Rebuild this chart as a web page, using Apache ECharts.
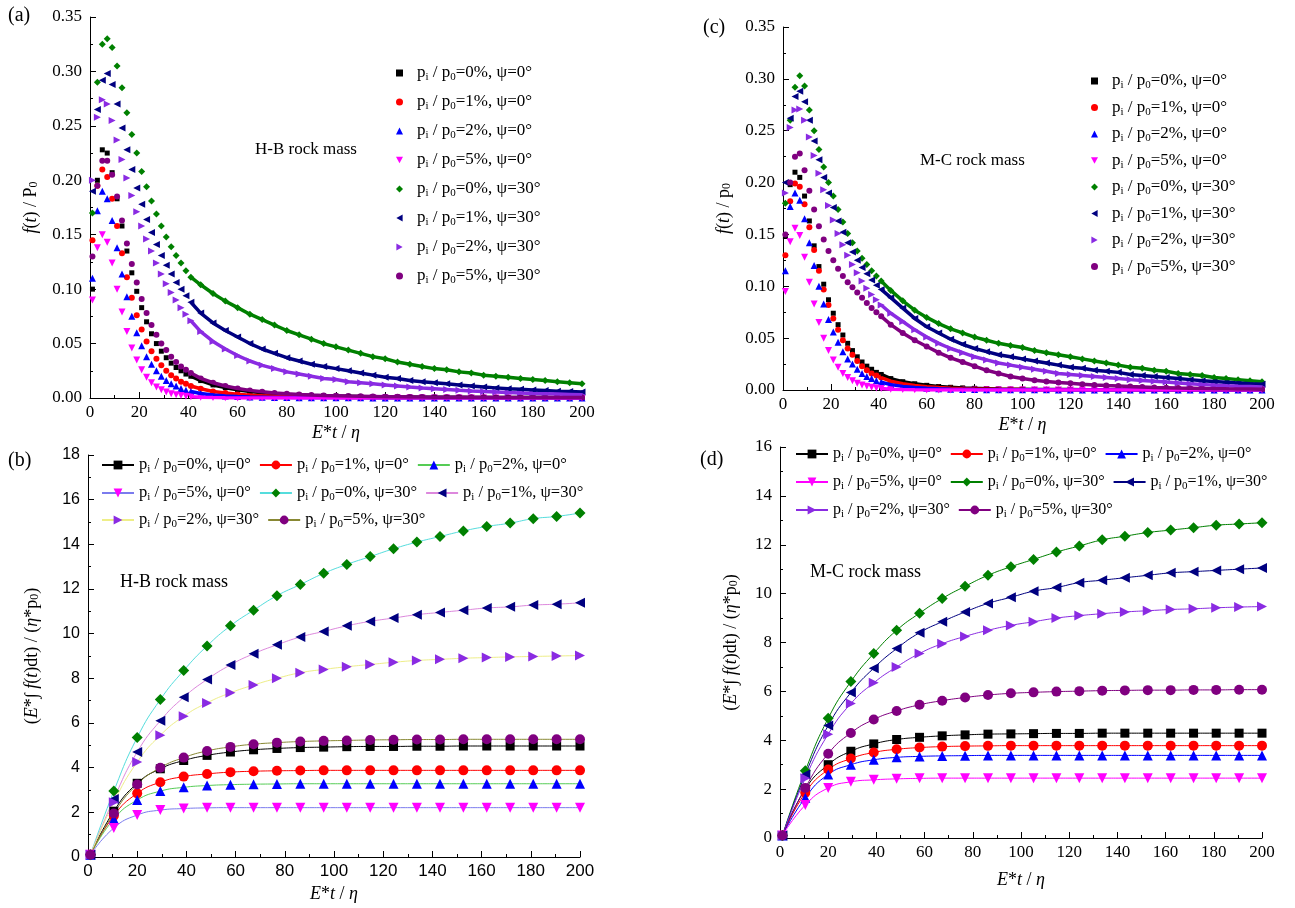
<!DOCTYPE html>
<html>
<head>
<meta charset="utf-8">
<script src="https://cdn.jsdelivr.net/npm/echarts@6/dist/echarts.min.js"></script>
<style>
  html, body { margin: 0; padding: 0; background: #fff; }
  #main { width: 1295px; height: 908px; }
</style>
</head>
<body>
<div id="main"></div>
<script>
// ---- x positions ----
// dense curves (a),(c): step 2 near the peak, step 5 in the tail
const tDense = [1, 3, 5, 7, 9, 11, 13, 15, 17, 19, 21, 23, 25, 27, 29, 31, 33, 35, 37, 39, 41,
  45, 50, 55, 60, 65, 70, 75, 80, 85, 90, 95, 100, 105, 110, 115, 120, 125, 130, 135, 140,
  145, 150, 155, 160, 165, 170, 175, 180, 185, 190, 195, 200];
// cumulative curves (b),(d)
const tCum = [1, 10.5, 20, 29.4, 38.9, 48.4, 57.9, 67.3, 76.8, 86.3, 95.8, 105.2, 114.7, 124.2,
  133.7, 143.1, 152.6, 162.1, 171.6, 181, 190.5, 200];

// legend text parts
const pctLabels = ['0%', '1%', '2%', '5%', '0%', '1%', '2%', '5%'];
const psiLabels = ['0°', '0°', '0°', '0°', '30°', '30°', '30°', '30°'];

// ---- (a) H-B rock mass, f(t)/p0 ----
const fHB_p0_psi0 = [0.1, 0.2, 0.228, 0.225, 0.207, 0.183, 0.158, 0.135, 0.115, 0.098, 0.083, 0.07, 0.059, 0.05, 0.043, 0.037, 0.032, 0.028, 0.025, 0.022, 0.02,
  0.016, 0.012, 0.0095, 0.0075, 0.006, 0.0048, 0.0039, 0.0032, 0.0027, 0.0023, 0.002, 0.0017, 0.0015, 0.0013, 0.0012, 0.0011, 0.001, 0.0009, 0.0008, 0.0007,
  0.00065, 0.0006, 0.00055, 0.0005, 0.00047, 0.00044, 0.00041, 0.00038, 0.00036, 0.00034, 0.00032, 0.0003];
const fHB_p1_psi0 = [0.145, 0.195, 0.21, 0.203, 0.183, 0.158, 0.133, 0.111, 0.092, 0.076, 0.063, 0.052, 0.043, 0.036, 0.03, 0.025, 0.021, 0.018, 0.015, 0.013, 0.011,
  0.0085, 0.006, 0.0045, 0.0034, 0.0026, 0.002, 0.0016, 0.0013, 0.001, 0.0008, 0.0007, 0.0006, 0.0005, 0.00045, 0.0004, 0.00035, 0.0003, 0.00027, 0.00024, 0.00022,
  0.0002, 0.00018, 0.00016, 0.00015, 0.00014, 0.00013, 0.00012, 0.00011, 0.0001, 0.0001, 0.00009, 0.00009];
const fHB_p2_psi0 = [0.11, 0.172, 0.19, 0.183, 0.163, 0.138, 0.114, 0.093, 0.075, 0.06, 0.048, 0.038, 0.031, 0.025, 0.02, 0.016, 0.013, 0.011, 0.0088, 0.0072, 0.006,
  0.0042, 0.0028, 0.0019, 0.0013, 0.0009, 0.0007, 0.0005, 0.0004, 0.0003, 0.00025, 0.0002, 0.00017, 0.00015, 0.00013, 0.00011, 0.0001, 0.00009, 0.00008, 0.00007, 0.00006,
  0.00006, 0.00005, 0.00005, 0.00005, 0.00005, 0.00005, 0.00005, 0.00005, 0.00005, 0.00005, 0.00005, 0.00005];
const fHB_p5_psi0 = [0.09, 0.138, 0.15, 0.143, 0.124, 0.1, 0.079, 0.061, 0.046, 0.035, 0.026, 0.019, 0.014, 0.01, 0.0075, 0.0055, 0.004, 0.003, 0.0022, 0.0016, 0.0012,
  0.0007, 0.0004, 0.0002, 0.0001, 0.00008, 0.00006, 0.00005, 0.00004, 0, 0, 0, 0, 0, 0, 0, 0, 0, 0, 0, 0,
  0, 0, 0, 0, 0, 0, 0, 0, 0, 0, 0, 0];
const fHB_p0_psi30 = [0.17, 0.29, 0.325, 0.33, 0.322, 0.305, 0.285, 0.262, 0.242, 0.225, 0.208, 0.194, 0.181, 0.169, 0.158, 0.148, 0.139, 0.131, 0.124, 0.117, 0.111,
  0.104, 0.096, 0.089, 0.083, 0.077, 0.072, 0.067, 0.062, 0.058, 0.054, 0.05, 0.047, 0.044, 0.041, 0.038, 0.036, 0.033, 0.031, 0.029, 0.027,
  0.026, 0.024, 0.023, 0.021, 0.02, 0.019, 0.018, 0.017, 0.016, 0.015, 0.014, 0.013];
const fHB_p1_psi30 = [0.19, 0.265, 0.292, 0.298, 0.288, 0.27, 0.248, 0.228, 0.21, 0.193, 0.178, 0.164, 0.152, 0.141, 0.131, 0.122, 0.114, 0.106, 0.1, 0.094, 0.088,
  0.078, 0.069, 0.062, 0.056, 0.05, 0.045, 0.041, 0.037, 0.034, 0.031, 0.029, 0.027, 0.025, 0.023, 0.021, 0.019, 0.018, 0.016, 0.015, 0.014,
  0.013, 0.012, 0.011, 0.01, 0.0093, 0.0086, 0.008, 0.0074, 0.0068, 0.0063, 0.0059, 0.0055];
const fHB_p2_psi30 = [0.2, 0.258, 0.274, 0.27, 0.255, 0.237, 0.219, 0.202, 0.186, 0.171, 0.158, 0.146, 0.135, 0.124, 0.114, 0.105, 0.097, 0.09, 0.083, 0.077, 0.071,
  0.061, 0.052, 0.045, 0.039, 0.034, 0.03, 0.027, 0.024, 0.022, 0.02, 0.018, 0.017, 0.015, 0.014, 0.013, 0.012, 0.011, 0.01, 0.0092, 0.0085,
  0.0078, 0.0071, 0.0065, 0.006, 0.0055, 0.005, 0.0046, 0.0042, 0.0039, 0.0036, 0.0033, 0.003];
const fHB_p5_psi30 = [0.13, 0.195, 0.218, 0.218, 0.205, 0.185, 0.163, 0.142, 0.123, 0.106, 0.091, 0.078, 0.067, 0.058, 0.05, 0.044, 0.038, 0.033, 0.029, 0.026, 0.023,
  0.018, 0.014, 0.011, 0.0088, 0.007, 0.0057, 0.0047, 0.0039, 0.0033, 0.0028, 0.0024, 0.0021, 0.0018, 0.0016, 0.0014, 0.0012, 0.0011, 0.001, 0.0009, 0.0008,
  0.00075, 0.0007, 0.00065, 0.0006, 0.00056, 0.00052, 0.00049, 0.00046, 0.00043, 0.0004, 0.00038, 0.00036];

// ---- (c) M-C rock mass, f(t)/p0 ----
const fMC_p0_psi0 = [0.148, 0.198, 0.21, 0.205, 0.187, 0.163, 0.139, 0.119, 0.102, 0.087, 0.074, 0.063, 0.053, 0.045, 0.038, 0.032, 0.027, 0.023, 0.02, 0.017, 0.015,
  0.011, 0.008, 0.006, 0.0045, 0.0034, 0.0026, 0.002, 0.0016, 0.0013, 0.001, 0.0008, 0.0007, 0.0006, 0.0005, 0.00045, 0.0004, 0.00035, 0.0003, 0.00027, 0.00024,
  0.00022, 0.0002, 0.00018, 0.00016, 0.00015, 0.00014, 0.00013, 0.00012, 0.00011, 0.0001, 0.0001, 0.0001];
const fMC_p1_psi0 = [0.13, 0.182, 0.199, 0.196, 0.179, 0.157, 0.135, 0.115, 0.097, 0.082, 0.069, 0.058, 0.048, 0.04, 0.034, 0.028, 0.023, 0.019, 0.016, 0.014, 0.012,
  0.0085, 0.006, 0.0043, 0.0031, 0.0023, 0.0017, 0.0013, 0.001, 0.0008, 0.0006, 0.0005, 0.0004, 0.00035, 0.0003, 0.00026, 0.00023, 0.0002, 0.00018, 0.00016, 0.00014,
  0.00013, 0.00012, 0.00011, 0.0001, 0.0001, 0.0001, 0.0001, 0.0001, 0.0001, 0.0001, 0.0001, 0.0001];
const fMC_p2_psi0 = [0.115, 0.177, 0.19, 0.183, 0.165, 0.142, 0.12, 0.1, 0.083, 0.068, 0.056, 0.046, 0.037, 0.03, 0.025, 0.02, 0.016, 0.013, 0.011, 0.009, 0.0075,
  0.0052, 0.0035, 0.0024, 0.0016, 0.0011, 0.0008, 0.0006, 0.0004, 0.0003, 0.00025, 0.0002, 0.00017, 0.00015, 0.00013, 0.00011, 0.0001, 0.00009, 0.00008, 0.00007, 0.00006,
  0.00006, 0.00005, 0.00005, 0.00005, 0.00005, 0.00005, 0.00005, 0.00005, 0.00005, 0.00005, 0.00005, 0.00005];
const fMC_p5_psi0 = [0.095, 0.143, 0.156, 0.149, 0.128, 0.104, 0.083, 0.065, 0.05, 0.038, 0.029, 0.022, 0.016, 0.012, 0.009, 0.0066, 0.0049, 0.0036, 0.0027, 0.002, 0.0015,
  0.0008, 0.0004, 0.0002, 0.0001, 0, 0, 0, 0, 0, 0, 0, 0, 0, 0, 0, 0, 0, 0, 0, 0,
  0, 0, 0, 0, 0, 0, 0, 0, 0, 0, 0, 0];
const fMC_p0_psi30 = [0.18, 0.26, 0.292, 0.303, 0.293, 0.27, 0.25, 0.232, 0.215, 0.2, 0.187, 0.174, 0.162, 0.151, 0.142, 0.134, 0.127, 0.121, 0.115, 0.11, 0.105,
  0.096, 0.086, 0.077, 0.07, 0.064, 0.059, 0.055, 0.051, 0.048, 0.045, 0.043, 0.041, 0.038, 0.036, 0.034, 0.032, 0.03, 0.028, 0.026, 0.024,
  0.022, 0.021, 0.019, 0.018, 0.016, 0.015, 0.014, 0.012, 0.011, 0.01, 0.009, 0.008];
const fMC_p1_psi30 = [0.2, 0.262, 0.283, 0.288, 0.278, 0.26, 0.24, 0.222, 0.205, 0.19, 0.176, 0.163, 0.152, 0.142, 0.133, 0.125, 0.118, 0.112, 0.106, 0.101, 0.097,
  0.089, 0.079, 0.069, 0.061, 0.055, 0.049, 0.044, 0.04, 0.037, 0.034, 0.032, 0.03, 0.028, 0.026, 0.024, 0.022, 0.021, 0.019, 0.018, 0.017,
  0.015, 0.014, 0.013, 0.012, 0.011, 0.01, 0.009, 0.0083, 0.0075, 0.0068, 0.006, 0.0055];
const fMC_p2_psi30 = [0.19, 0.253, 0.27, 0.271, 0.26, 0.244, 0.226, 0.209, 0.193, 0.178, 0.164, 0.151, 0.14, 0.13, 0.121, 0.113, 0.105, 0.098, 0.092, 0.087, 0.082,
  0.074, 0.066, 0.058, 0.051, 0.045, 0.04, 0.036, 0.032, 0.029, 0.026, 0.024, 0.022, 0.02, 0.018, 0.016, 0.015, 0.014, 0.013, 0.012, 0.011,
  0.01, 0.0092, 0.0084, 0.0076, 0.0068, 0.006, 0.0053, 0.0047, 0.0041, 0.0036, 0.0033, 0.003];
const fMC_p5_psi30 = [0.15, 0.2, 0.225, 0.228, 0.212, 0.192, 0.174, 0.158, 0.145, 0.134, 0.125, 0.117, 0.11, 0.104, 0.099, 0.094, 0.089, 0.084, 0.079, 0.075, 0.071,
  0.063, 0.055, 0.048, 0.042, 0.036, 0.031, 0.027, 0.023, 0.019, 0.016, 0.013, 0.011, 0.0095, 0.0083, 0.0073, 0.0064, 0.0056, 0.0049, 0.0043, 0.0038,
  0.0033, 0.0029, 0.0025, 0.0022, 0.0019, 0.0017, 0.0015, 0.0013, 0.0011, 0.001, 0.0009, 0.0008];

// ---- (b) H-B rock mass, cumulative ----
const cHB_p0_psi0 = [0.1, 2.05, 3.3, 3.95, 4.32, 4.55, 4.7, 4.8, 4.86, 4.9, 4.92, 4.94, 4.95, 4.95, 4.96, 4.96, 4.97, 4.97, 4.97, 4.97, 4.97, 4.97];
const cHB_p1_psi0 = [0.1, 1.85, 2.85, 3.35, 3.6, 3.72, 3.8, 3.84, 3.86, 3.87, 3.88, 3.88, 3.88, 3.88, 3.88, 3.88, 3.88, 3.88, 3.88, 3.88, 3.88, 3.88];
const cHB_p2_psi0 = [0.1, 1.7, 2.55, 2.95, 3.12, 3.2, 3.24, 3.26, 3.27, 3.28, 3.28, 3.28, 3.28, 3.28, 3.28, 3.28, 3.28, 3.28, 3.28, 3.28, 3.28, 3.28];
const cHB_p5_psi0 = [0.1, 1.3, 1.88, 2.1, 2.17, 2.2, 2.21, 2.21, 2.21, 2.21, 2.21, 2.21, 2.21, 2.21, 2.21, 2.21, 2.21, 2.21, 2.21, 2.21, 2.21, 2.21];
const cHB_p0_psi30 = [0.1, 2.95, 5.35, 7.05, 8.35, 9.45, 10.35, 11.05, 11.7, 12.2, 12.7, 13.1, 13.45, 13.8, 14.1, 14.35, 14.6, 14.8, 14.95, 15.15, 15.25, 15.4];
const cHB_p1_psi30 = [0.1, 2.6, 4.7, 6.1, 7.15, 7.95, 8.6, 9.1, 9.5, 9.85, 10.1, 10.35, 10.55, 10.7, 10.85, 10.95, 11.05, 11.15, 11.2, 11.28, 11.32, 11.38];
const cHB_p2_psi30 = [0.1, 2.45, 4.25, 5.45, 6.3, 6.9, 7.35, 7.7, 8.0, 8.25, 8.4, 8.52, 8.62, 8.72, 8.8, 8.85, 8.9, 8.93, 8.96, 8.98, 9.0, 9.02];
const cHB_p5_psi30 = [0.1, 1.95, 3.25, 4.0, 4.45, 4.75, 4.93, 5.05, 5.12, 5.17, 5.2, 5.22, 5.24, 5.25, 5.26, 5.26, 5.27, 5.27, 5.27, 5.27, 5.27, 5.27];

// ---- (d) M-C rock mass, cumulative ----
const cMC_p0_psi0 = [0.1, 2.0, 3.0, 3.55, 3.85, 4.03, 4.12, 4.18, 4.22, 4.25, 4.26, 4.27, 4.28, 4.28, 4.29, 4.29, 4.29, 4.29, 4.29, 4.29, 4.29, 4.29];
const cMC_p1_psi0 = [0.1, 1.85, 2.8, 3.25, 3.5, 3.63, 3.7, 3.74, 3.76, 3.77, 3.78, 3.78, 3.78, 3.78, 3.78, 3.78, 3.78, 3.78, 3.78, 3.78, 3.78, 3.78];
const cMC_p2_psi0 = [0.1, 1.65, 2.6, 3.0, 3.2, 3.3, 3.34, 3.36, 3.37, 3.38, 3.38, 3.38, 3.38, 3.38, 3.38, 3.38, 3.38, 3.38, 3.38, 3.38, 3.38, 3.38];
const cMC_p5_psi0 = [0.1, 1.35, 2.05, 2.3, 2.38, 2.42, 2.44, 2.45, 2.45, 2.45, 2.45, 2.45, 2.45, 2.45, 2.45, 2.45, 2.45, 2.45, 2.45, 2.45, 2.45, 2.45];
const cMC_p0_psi30 = [0.1, 2.75, 4.9, 6.4, 7.55, 8.5, 9.2, 9.8, 10.3, 10.75, 11.1, 11.4, 11.7, 11.95, 12.2, 12.35, 12.5, 12.6, 12.7, 12.8, 12.85, 12.9];
const cMC_p1_psi30 = [0.1, 2.6, 4.6, 5.95, 6.95, 7.75, 8.4, 8.85, 9.25, 9.6, 9.85, 10.1, 10.25, 10.45, 10.55, 10.65, 10.75, 10.85, 10.9, 10.95, 11.0, 11.05];
const cMC_p2_psi30 = [0.1, 2.45, 4.25, 5.5, 6.35, 7.0, 7.55, 7.95, 8.25, 8.5, 8.7, 8.85, 9.0, 9.1, 9.18, 9.25, 9.3, 9.35, 9.38, 9.42, 9.45, 9.47];
const cMC_p5_psi30 = [0.1, 2.05, 3.45, 4.3, 4.85, 5.2, 5.45, 5.62, 5.75, 5.85, 5.92, 5.96, 5.99, 6.01, 6.03, 6.04, 6.05, 6.05, 6.06, 6.06, 6.07, 6.07];

const fHB = [fHB_p0_psi0, fHB_p1_psi0, fHB_p2_psi0, fHB_p5_psi0, fHB_p0_psi30, fHB_p1_psi30, fHB_p2_psi30, fHB_p5_psi30];
const fMC = [fMC_p0_psi0, fMC_p1_psi0, fMC_p2_psi0, fMC_p5_psi0, fMC_p0_psi30, fMC_p1_psi30, fMC_p2_psi30, fMC_p5_psi30];
const cHB = [cHB_p0_psi0, cHB_p1_psi0, cHB_p2_psi0, cHB_p5_psi0, cHB_p0_psi30, cHB_p1_psi30, cHB_p2_psi30, cHB_p5_psi30];
const cMC = [cMC_p0_psi0, cMC_p1_psi0, cMC_p2_psi0, cMC_p5_psi0, cMC_p0_psi30, cMC_p1_psi30, cMC_p2_psi30, cMC_p5_psi30];

// ---- styles ----
const serif = '"Liberation Serif", "Times New Roman", serif';
const sans = '"Liberation Sans", Arial, sans-serif';
const markerColors = ['#000000', '#ff0000', '#0000ff', '#ff00ff', '#008000', '#000080', '#8a2be2', '#800080'];
const lineColorsHB = ['#000000', '#ff0000', '#55cc55', '#7b7bee', '#55dddd', '#dd88dd', '#eeee88', '#888833'];
const lineColorsMC = markerColors;
// triangles pointing down / left / right as paths so the legend keeps the direction
const triDown = 'path://M0,0L2,0L1,1.8Z';
const triLeft = 'path://M0,1L1.8,0L1.8,2Z';
const triRight = 'path://M0,0L1.8,1L0,2Z';
const markers = [
  { symbol: 'rect', small: 5, big: 9 },
  { symbol: 'circle', small: 6, big: 10 },
  { symbol: 'triangle', small: 7, big: 10 },
  { symbol: triDown, small: 7, big: 10 },
  { symbol: 'diamond', small: 7, big: 11 },
  { symbol: triLeft, small: 7, big: 10 },
  { symbol: triRight, small: 7, big: 10 },
  { symbol: 'circle', small: 6, big: 10 }
];

const chart = echarts.init(document.getElementById('main'));

function legendText(name) {
  const k = +name.slice(1);
  return 'p{s|i} / p{s|0}=' + pctLabels[k] + ', ψ=' + psiLabels[k];
}
const subRich = { s: { fontFamily: serif, fontSize: 11, lineHeight: 12, verticalAlign: 'bottom' } };

function xAxisFor(gi, labelFont, gap) {
  return {
    gridIndex: gi, type: 'value', min: 0, max: 200, interval: 20,
    name: '{i|E}*{i|t} / {i|η}', nameLocation: 'middle', nameGap: gap,
    nameTextStyle: { fontFamily: serif, fontSize: 18, color: '#000',
      rich: { i: { fontFamily: serif, fontSize: 18, fontStyle: 'italic' } } },
    axisLine: { onZero: false, lineStyle: { color: '#000', width: 1 } },
    axisTick: { inside: true, length: 6, lineStyle: { color: '#000' } },
    minorTick: { show: true, splitNumber: 2, length: 3, lineStyle: { color: '#000' } },
    splitLine: { show: false },
    axisLabel: { fontFamily: labelFont, fontSize: 17, color: '#000', margin: 6 }
  };
}

function yAxisFor(gi, max, interval, name, labelFont, gap, fmt) {
  return {
    gridIndex: gi, type: 'value', min: 0, max: max, interval: interval,
    name: name, nameLocation: 'middle', nameGap: gap,
    nameTextStyle: { fontFamily: serif, fontSize: 18, color: '#000',
      rich: {
        i: { fontFamily: serif, fontSize: 18, fontStyle: 'italic' },
        s: { fontFamily: serif, fontSize: 12, lineHeight: 12, verticalAlign: 'bottom' }
      } },
    axisLine: { onZero: false, lineStyle: { color: '#000', width: 1 } },
    axisTick: { inside: true, length: 6, lineStyle: { color: '#000' } },
    minorTick: { show: true, splitNumber: 2, length: 3, lineStyle: { color: '#000' } },
    splitLine: { show: false },
    axisLabel: { fontFamily: labelFont, fontSize: labelFont === sans ? 16 : 17, color: '#000', margin: 8, formatter: fmt }
  };
}

// scattered points plus a thick band for the tail
function denseSeries(tag, gi, sets) {
  const out = [];
  sets.forEach((vals, k) => {
    const pts = tDense.map((t, j) => [t, vals[j]]);
    out.push({
      name: tag + k + '_tail', type: 'line', xAxisIndex: gi, yAxisIndex: gi,
      data: pts.slice(20), symbol: 'none', silent: true,
      lineStyle: { color: markerColors[k], width: 3.5 }
    });
    out.push({
      name: tag + k, type: 'scatter', xAxisIndex: gi, yAxisIndex: gi,
      data: pts, symbol: markers[k].symbol,
      symbolSize: markers[k].small, itemStyle: { color: markerColors[k], opacity: 1 }
    });
  });
  return out;
}

function cumSeries(tag, gi, sets, lineColors) {
  return sets.map((vals, k) => ({
    name: tag + k, type: 'line', xAxisIndex: gi, yAxisIndex: gi,
    data: tCum.map((t, j) => [t, vals[j]]),
    symbol: markers[k].symbol, symbolSize: markers[k].big,
    showSymbol: true, smooth: true,
    itemStyle: { color: markerColors[k], opacity: 1 },
    lineStyle: { color: lineColors[k], width: 1 }
  }));
}

function verticalLegend(tag, left, top, gap) {
  return {
    orient: 'vertical', left: left, top: top, itemGap: gap, itemWidth: 7, itemHeight: 7,
    data: [0, 1, 2, 3, 4, 5, 6, 7].map(k => tag + k),
    formatter: legendText, selectedMode: false,
    textStyle: { fontFamily: serif, fontSize: 17, lineHeight: 20, color: '#000', padding: [0, 0, 0, 9], rich: subRich }
  };
}

function rowLegend(tag, ks, left, top, size) {
  return {
    orient: 'horizontal', left: left, top: top, itemGap: 8, itemWidth: 32, itemHeight: 11,
    data: ks.map(k => tag + k),
    formatter: legendText, selectedMode: false,
    textStyle: { fontFamily: serif, fontSize: size, lineHeight: 20, color: '#000', rich: subRich }
  };
}

const fmt2 = v => v.toFixed(2);

const option = {
  animation: false,
  backgroundColor: '#fff',
  grid: [
    { left: 90, top: 17, width: 492, height: 381 },   // (a)
    { left: 88, top: 455, width: 492, height: 402 },  // (b)
    { left: 783, top: 27, width: 479, height: 363 },  // (c)
    { left: 780, top: 447, width: 482, height: 391 }  // (d)
  ],
  xAxis: [
    xAxisFor(0, serif, 26),
    xAxisFor(1, sans, 28),
    xAxisFor(2, serif, 26),
    xAxisFor(3, serif, 33)
  ],
  yAxis: [
    yAxisFor(0, 0.35, 0.05, '{i|f}({i|t}) / P{s|0}', serif, 50, fmt2),
    yAxisFor(1, 18, 2, '({i|E}*∫ {i|f}({i|t})dt) / ({i|η}*p{s|0})', sans, 47),
    yAxisFor(2, 0.35, 0.05, '{i|f}({i|t}) / p{s|0}', serif, 50, fmt2),
    yAxisFor(3, 16, 2, '({i|E}*∫ {i|f}({i|t})dt) / ({i|η}*p{s|0})', serif, 40)
  ],
  legend: [
    verticalLegend('a', 391, 58, 9),
    verticalLegend('c', 1086, 66, 6.5),
    rowLegend('b', [0, 1, 2], 96, 450, 16.5),
    rowLegend('b', [3, 4, 5], 96, 478, 16.5),
    rowLegend('b', [6, 7], 96, 505, 16.5),
    rowLegend('d', [0, 1, 2], 790, 439, 16),
    rowLegend('d', [3, 4, 5], 790, 467, 16),
    rowLegend('d', [6, 7], 790, 495, 16)
  ],
  graphic: [
    { type: 'text', left: 8, top: 6, style: { text: '(a)', fontFamily: serif, fontSize: 20, fill: '#000' } },
    { type: 'text', left: 8, top: 451, style: { text: '(b)', fontFamily: serif, fontSize: 20, fill: '#000' } },
    { type: 'text', left: 703, top: 18, style: { text: '(c)', fontFamily: serif, fontSize: 20, fill: '#000' } },
    { type: 'text', left: 700, top: 450, style: { text: '(d)', fontFamily: serif, fontSize: 20, fill: '#000' } },
    { type: 'text', left: 255, top: 141, style: { text: 'H-B rock mass', fontFamily: serif, fontSize: 17, fill: '#000' } },
    { type: 'text', left: 920, top: 152, style: { text: 'M-C rock mass', fontFamily: serif, fontSize: 17, fill: '#000' } },
    { type: 'text', left: 120, top: 573, style: { text: 'H-B rock mass', fontFamily: serif, fontSize: 18, fill: '#000' } },
    { type: 'text', left: 810, top: 563, style: { text: 'M-C rock mass', fontFamily: serif, fontSize: 18, fill: '#000' } }
  ],
  series: [].concat(
    denseSeries('a', 0, fHB),
    cumSeries('b', 1, cHB, lineColorsHB),
    denseSeries('c', 2, fMC),
    cumSeries('d', 3, cMC, lineColorsMC)
  )
};

chart.setOption(option);
</script>
</body>
</html>
